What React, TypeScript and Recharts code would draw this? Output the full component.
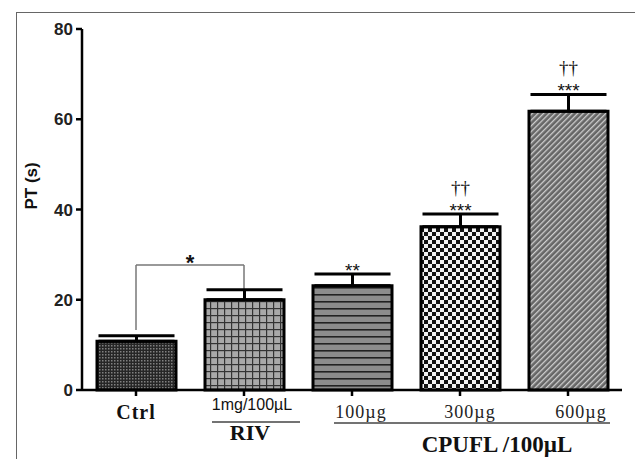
import React from 'react';
import { BarChart, Bar, Cell, XAxis, YAxis, ErrorBar, ReferenceLine, LabelList } from 'recharts';

const groups = ['Ctrl', 'RIV', '100µg', '300µg', '600µg'];
const ptMeans = [10.8, 20, 23.1, 36.2, 61.8];
const ptSem = [1.2, 2.2, 2.6, 2.8, 3.7];
const starMarks = ['', '', '**', '***', '***'];
const daggerMarks = ['', '', '', '††', '††'];
const yTicks = [0, 20, 40, 60, 80];
const patternIds = ['pCtrl', 'pRiv', 'p100', 'p300', 'p600'];

const data = groups.map((g, i) => ({ group: g, pt: ptMeans[i], err: [0, ptSem[i]] }));

const serif = '"Liberation Serif", "Times New Roman", serif';
const sans = '"Liberation Sans", Arial, sans-serif';

// category labels under the axis, with the RIV / CPUFL group captions
const GroupTick = (props: any) => {
  const { x, y, payload } = props;
  const v = payload.value;
  if (v === 'Ctrl') {
    return (
      <text x={x} y={y + 23} textAnchor="middle" fontFamily={serif} fontWeight="bold" fontSize={20} letterSpacing={1} fill="#111">
        Ctrl
      </text>
    );
  }
  if (v === 'RIV') {
    return (
      <g>
        <text x={x + 8} y={y + 14} textAnchor="middle" fontFamily={sans} fontSize={16} fill="#111">1mg/100µL</text>
        <line x1={x - 32} x2={x + 56} y1={y + 26} y2={y + 26} stroke="#444" strokeWidth={1.5} />
        <text x={x + 6} y={y + 44} textAnchor="middle" fontFamily={serif} fontWeight="bold" fontSize={22} fill="#111">RIV</text>
      </g>
    );
  }
  const shift = v === '100µg' ? 9 : v === '300µg' ? 10 : 13;
  return (
    <g>
      <text x={x + shift} y={y + 22} textAnchor="middle" fontFamily={serif} fontSize={18} letterSpacing={1} fill="#222">{v}</text>
      {v === '300µg' && (
        <g>
          <line x1={x - 126} x2={x + 150} y1={y + 27} y2={y + 27} stroke="#444" strokeWidth={1.5} />
          <text x={x + 37} y={y + 56} textAnchor="middle" fontFamily={serif} fontWeight="bold" fontSize={23} fill="#111">CPUFL /100µL</text>
        </g>
      )}
    </g>
  );
};

// significance marks above each error bar
const Marks = (props: any) => {
  const { x, y, width, height, value } = props;
  const i = groups.indexOf(value);
  if (i < 0 || (!starMarks[i] && !daggerMarks[i])) return null;
  const top = y - (ptSem[i] * height) / ptMeans[i];
  const cx = x + width / 2;
  return (
    <g>
      {starMarks[i] && (
        <text x={cx} y={top + 3} textAnchor="middle" fontFamily={sans} fontSize={19} fill="#111">{starMarks[i]}</text>
      )}
      {daggerMarks[i] && (
        <text x={cx} y={top - 20} textAnchor="middle" fontFamily={serif} fontSize={19} fill="#111">{daggerMarks[i]}</text>
      )}
    </g>
  );
};

export default function App() {
  return (
    <div style={{ position: 'absolute', left: 0, top: 0, width: 635, height: 459, overflow: 'hidden', background: '#fff' }}>
      <div style={{ position: 'absolute', left: 16, top: 12, width: 700, height: 500, borderLeft: '1.5px solid #666', borderTop: '1.5px solid #666' }} />
      <BarChart width={635} height={459} data={data} margin={{ top: 29, right: 13, left: 22, bottom: 39 }} barSize={79}>
        <defs>
          <pattern id="pCtrl" width="3" height="3" patternUnits="userSpaceOnUse">
            <rect width="3" height="3" fill="#262626" />
            <rect width="1.5" height="1.5" fill="#808080" />
          </pattern>
          <pattern id="pRiv" width="7" height="7" patternUnits="userSpaceOnUse">
            <rect width="7" height="7" fill="#a8a8a8" />
            <rect width="7" height="1.2" fill="#333" />
            <rect width="1.2" height="7" fill="#333" />
          </pattern>
          <pattern id="p100" width="7" height="7" patternUnits="userSpaceOnUse">
            <rect width="7" height="7" fill="#8c8c8c" />
            <rect width="7" height="1.6" fill="#222" />
          </pattern>
          <pattern id="p300" width="8" height="8" patternUnits="userSpaceOnUse">
            <rect width="8" height="8" fill="#f2f2f2" />
            <rect width="4" height="4" fill="#111" />
            <rect x="4" y="4" width="4" height="4" fill="#111" />
          </pattern>
          <pattern id="p600" width="4" height="4" patternUnits="userSpaceOnUse" patternTransform="rotate(45)">
            <rect width="4" height="4" fill="#666" />
            <rect width="1.3" height="4" fill="#cfcfcf" />
          </pattern>
        </defs>
        <XAxis
          dataKey="group"
          axisLine={{ stroke: '#000', strokeWidth: 2.5 }}
          tickLine={{ stroke: '#000', strokeWidth: 2.5 }}
          tickSize={6}
          tickMargin={0}
          height={30}
          interval={0}
          tick={<GroupTick />}
        />
        <YAxis
          domain={[0, 80]}
          ticks={yTicks}
          width={60}
          axisLine={{ stroke: '#000', strokeWidth: 2.5 }}
          tickLine={{ stroke: '#000', strokeWidth: 2.5 }}
          tickSize={6}
          tickMargin={3}
          tick={{ fontFamily: sans, fontWeight: 'bold', fontSize: 17, fill: '#222' }}
          label={{ value: 'PT (s)', angle: -90, position: 'insideLeft', offset: 0, dx: 9, fontFamily: sans, fontWeight: 'bold', fontSize: 17, fill: '#111' }}
        />
        <ReferenceLine segment={[{ x: 'Ctrl', y: 13.3 }, { x: 'Ctrl', y: 27.7 }]} stroke="#777" strokeWidth={1.5} />
        <ReferenceLine
          segment={[{ x: 'Ctrl', y: 27.7 }, { x: 'RIV', y: 27.7 }]}
          stroke="#777"
          strokeWidth={1.5}
          label={{ value: '*', position: 'top', offset: -5, fontFamily: sans, fontWeight: 'bold', fontSize: 22, fill: '#111' }}
        />
        <ReferenceLine segment={[{ x: 'RIV', y: 27.7 }, { x: 'RIV', y: 22.4 }]} stroke="#777" strokeWidth={1.5} />
        <Bar dataKey="pt" stroke="#000" strokeWidth={3} isAnimationActive={false}>
          {data.map((d, i) => (
            <Cell key={d.group} fill={`url(#${patternIds[i]})`} />
          ))}
          <ErrorBar dataKey="err" direction="y" width={38} stroke="#000" strokeWidth={3} />
          <LabelList dataKey="group" content={<Marks />} />
        </Bar>
      </BarChart>
    </div>
  );
}
